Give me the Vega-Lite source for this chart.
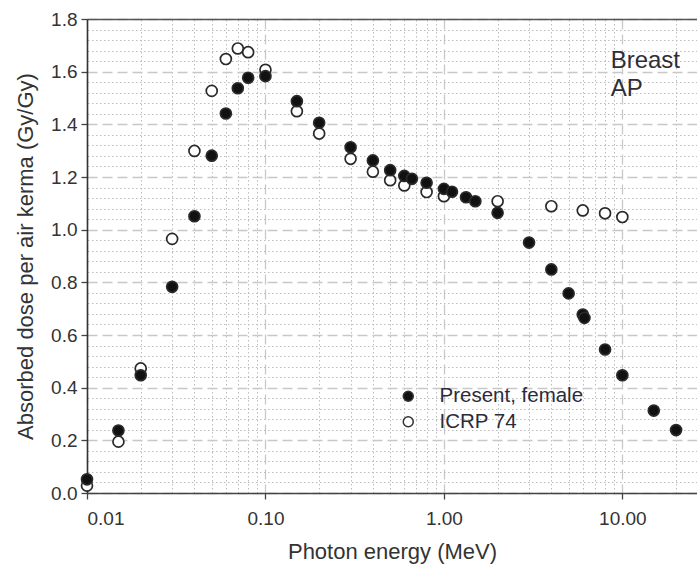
{
  "$schema": "https://vega.github.io/schema/vega-lite/v6.json",
  "width": 610,
  "height": 474,
  "autosize": {"type": "none"},
  "padding": {"left": 87, "top": 19, "right": 0, "bottom": 71},
  "background": "white",
  "config": {
    "view": {"stroke": null},
    "font": "Liberation Sans",
    "axis": {
      "labelFont": "Liberation Sans",
      "titleFont": "Liberation Sans",
      "labelColor": "#333333",
      "titleColor": "#333333",
      "titleFontWeight": "normal"
    }
  },
  "resolve": {"axis": {"x": "independent", "y": "independent"}},
  "layer": [
    {
      "data": {
        "values": [
          {"series": "ICRP 74", "energy": 0.01, "dose": 0.028},
          {"series": "ICRP 74", "energy": 0.015, "dose": 0.195},
          {"series": "ICRP 74", "energy": 0.02, "dose": 0.473},
          {"series": "ICRP 74", "energy": 0.03, "dose": 0.965},
          {"series": "ICRP 74", "energy": 0.04, "dose": 1.299},
          {"series": "ICRP 74", "energy": 0.05, "dose": 1.527},
          {"series": "ICRP 74", "energy": 0.06, "dose": 1.648},
          {"series": "ICRP 74", "energy": 0.07, "dose": 1.688},
          {"series": "ICRP 74", "energy": 0.08, "dose": 1.674},
          {"series": "ICRP 74", "energy": 0.1, "dose": 1.607},
          {"series": "ICRP 74", "energy": 0.15, "dose": 1.45},
          {"series": "ICRP 74", "energy": 0.2, "dose": 1.365},
          {"series": "ICRP 74", "energy": 0.3, "dose": 1.269},
          {"series": "ICRP 74", "energy": 0.4, "dose": 1.22},
          {"series": "ICRP 74", "energy": 0.5, "dose": 1.188},
          {"series": "ICRP 74", "energy": 0.6, "dose": 1.168},
          {"series": "ICRP 74", "energy": 0.8, "dose": 1.143},
          {"series": "ICRP 74", "energy": 1.0, "dose": 1.127},
          {"series": "ICRP 74", "energy": 2.0, "dose": 1.108},
          {"series": "ICRP 74", "energy": 4.0, "dose": 1.089},
          {"series": "ICRP 74", "energy": 6.0, "dose": 1.073},
          {"series": "ICRP 74", "energy": 8.0, "dose": 1.062},
          {"series": "ICRP 74", "energy": 10.0, "dose": 1.048},
          {"series": "Present, female", "energy": 0.01, "dose": 0.052},
          {"series": "Present, female", "energy": 0.015, "dose": 0.237},
          {"series": "Present, female", "energy": 0.02, "dose": 0.447},
          {"series": "Present, female", "energy": 0.03, "dose": 0.783},
          {"series": "Present, female", "energy": 0.04, "dose": 1.051},
          {"series": "Present, female", "energy": 0.05, "dose": 1.281},
          {"series": "Present, female", "energy": 0.06, "dose": 1.441},
          {"series": "Present, female", "energy": 0.07, "dose": 1.537},
          {"series": "Present, female", "energy": 0.08, "dose": 1.577},
          {"series": "Present, female", "energy": 0.1, "dose": 1.583},
          {"series": "Present, female", "energy": 0.15, "dose": 1.488},
          {"series": "Present, female", "energy": 0.2, "dose": 1.406},
          {"series": "Present, female", "energy": 0.3, "dose": 1.313},
          {"series": "Present, female", "energy": 0.4, "dose": 1.263},
          {"series": "Present, female", "energy": 0.5, "dose": 1.226},
          {"series": "Present, female", "energy": 0.6, "dose": 1.204},
          {"series": "Present, female", "energy": 0.662, "dose": 1.193},
          {"series": "Present, female", "energy": 0.8, "dose": 1.178},
          {"series": "Present, female", "energy": 1.0, "dose": 1.155},
          {"series": "Present, female", "energy": 1.11, "dose": 1.144},
          {"series": "Present, female", "energy": 1.33, "dose": 1.123},
          {"series": "Present, female", "energy": 1.5, "dose": 1.108},
          {"series": "Present, female", "energy": 2.0, "dose": 1.064},
          {"series": "Present, female", "energy": 3.0, "dose": 0.951},
          {"series": "Present, female", "energy": 4.0, "dose": 0.849},
          {"series": "Present, female", "energy": 5.0, "dose": 0.758},
          {"series": "Present, female", "energy": 6.0, "dose": 0.678},
          {"series": "Present, female", "energy": 6.13, "dose": 0.665},
          {"series": "Present, female", "energy": 8.0, "dose": 0.545},
          {"series": "Present, female", "energy": 10.0, "dose": 0.447},
          {"series": "Present, female", "energy": 15.0, "dose": 0.313},
          {"series": "Present, female", "energy": 20.0, "dose": 0.239}
        ]
      },
      "mark": {"type": "point", "shape": "circle", "filled": true, "stroke": "#2a2a2a", "strokeWidth": 1.7, "size": 120, "opacity": 1},
      "encoding": {
        "x": {
          "field": "energy", "type": "quantitative",
          "scale": {"type": "log", "domain": [0.01, 26.2], "nice": false},
          "axis": {
            "orient": "bottom",
            "values": [0.01, 0.1, 1, 10],
            "format": ".2f",
            "title": "Photon energy (MeV)",
            "titleFontSize": 22,
            "titlePadding": 13,
            "labelFontSize": 19,
            "labelPadding": 10,
            "tickSize": 6,
            "tickWidth": 1.3,
            "tickColor": "#444444",
            "domainColor": "#444444",
            "domainWidth": 1.5,
            "grid": true,
            "gridColor": "#c8c8c8",
            "gridDash": [10, 5],
            "gridWidth": 1.3
          }
        },
        "y": {
          "field": "dose", "type": "quantitative",
          "scale": {"domain": [0, 1.8], "nice": false, "zero": false},
          "axis": {
            "orient": "left",
            "values": [0, 0.2, 0.4, 0.6, 0.8, 1.0, 1.2, 1.4, 1.6, 1.8],
            "format": ".1f",
            "title": "Absorbed dose per air kerma (Gy/Gy)",
            "titleFontSize": 22,
            "titlePadding": 13,
            "labelFontSize": 19,
            "labelPadding": 4,
            "tickSize": 6,
            "tickWidth": 1.3,
            "tickColor": "#444444",
            "domainColor": "#333333",
            "domainWidth": 1.6,
            "grid": true,
            "gridColor": "#c8c8c8",
            "gridDash": [10, 5],
            "gridWidth": 1.3
          }
        },
        "fill": {
          "field": "series", "type": "nominal",
          "scale": {"domain": ["Present, female", "ICRP 74"], "range": ["#111111", "#ffffff"]},
          "legend": {
            "orient": "none",
            "legendX": 311,
            "legendY": 367,
            "title": null,
            "symbolType": "circle",
            "symbolSize": 100,
            "symbolStrokeColor": "#333333",
            "symbolStrokeWidth": 1.5,
            "labelFont": "Liberation Sans",
            "labelFontSize": 20.5,
            "labelColor": "#2b2b3a",
            "labelOffset": 21,
            "labelLimit": 300,
            "rowPadding": 4.5,
            "padding": 0
          }
        }
      }
    },
    {
      "data": {
        "values": [
          {"label": "Breast", "energy": 8.6, "dose": 1.615},
          {"label": "AP", "energy": 8.6, "dose": 1.507}
        ]
      },
      "mark": {"type": "text", "align": "left", "baseline": "alphabetic", "fontSize": 24, "font": "Liberation Sans", "color": "#2e2e38"},
      "encoding": {
        "x": {
          "field": "energy", "type": "quantitative",
          "axis": {
            "orient": "top",
            "values": [0.02, 0.03, 0.04, 0.05, 0.06, 0.07, 0.08, 0.09, 0.2, 0.3, 0.4, 0.5, 0.6, 0.7, 0.8, 0.9, 2, 3, 4, 5, 6, 7, 8, 9, 20],
            "labels": false,
            "ticks": false,
            "title": null,
            "domain": true,
            "domainColor": "#555555",
            "domainWidth": 1.5,
            "grid": true,
            "gridColor": "#bdbdbd",
            "gridDash": [1.5, 2.5],
            "gridWidth": 1
          }
        },
        "y": {
          "field": "dose", "type": "quantitative",
          "axis": {
            "orient": "right",
            "values": [0.04, 0.08, 0.12, 0.16, 0.24, 0.28, 0.32, 0.36, 0.44, 0.48, 0.52, 0.56, 0.64, 0.68, 0.72, 0.76, 0.84, 0.88, 0.92, 0.96, 1.04, 1.08, 1.12, 1.16, 1.24, 1.28, 1.32, 1.36, 1.44, 1.48, 1.52, 1.56, 1.64, 1.68, 1.72, 1.76],
            "labels": false,
            "ticks": false,
            "title": null,
            "domain": false,
            "grid": true,
            "gridColor": "#bdbdbd",
            "gridDash": [1.5, 2.5],
            "gridWidth": 1
          }
        },
        "text": {"field": "label", "type": "nominal"}
      }
    }
  ]
}
